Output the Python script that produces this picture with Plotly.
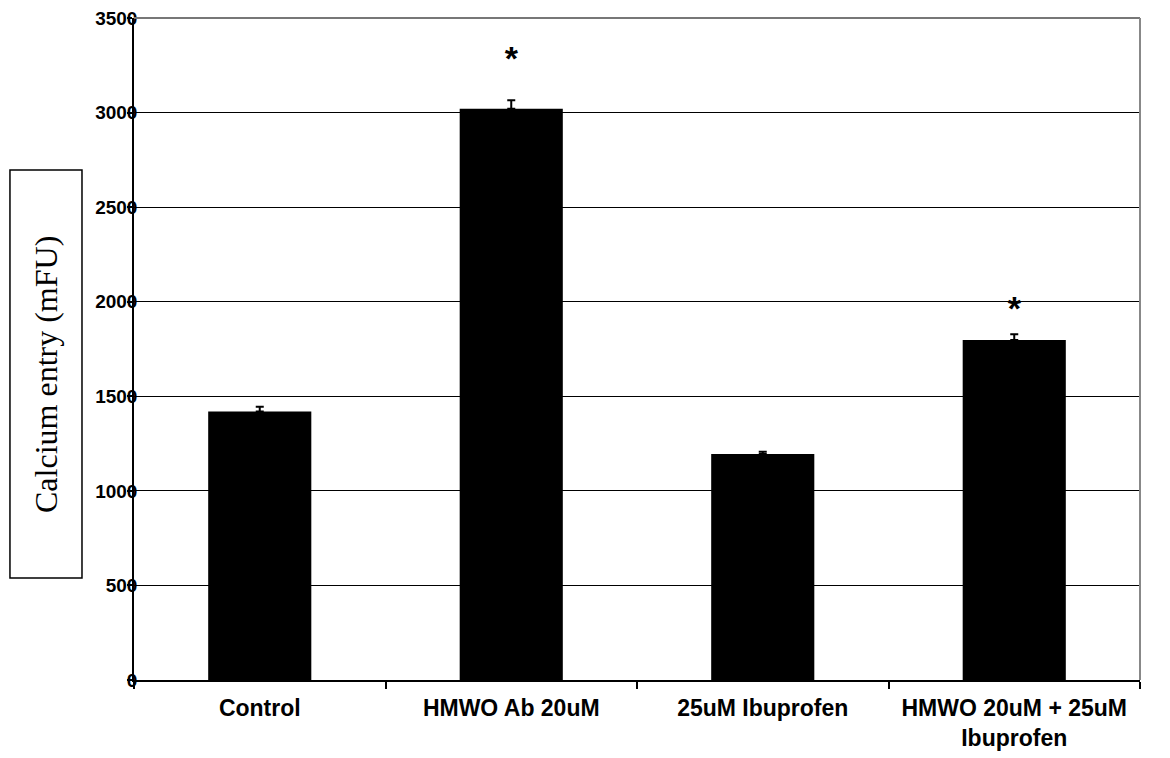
import plotly.graph_objects as go

categories = ["Control", "HMWO Ab 20uM", "25uM Ibuprofen", "HMWO 20uM + 25uM<br>Ibuprofen"]
values = [1420, 3020, 1195, 1798]
errors = [25, 45, 12, 30]
significant = [False, True, False, True]
star_values = [None, 3272, None, 1946]
y_ticks = [0, 500, 1000, 1500, 2000, 2500, 3000, 3500]

fig = go.Figure()
fig.add_trace(go.Bar(
    x=categories, y=values,
    marker=dict(color="black", line=dict(width=0)),
    error_y=dict(type="data", symmetric=False, array=errors,
                 arrayminus=[0] * len(errors), color="black",
                 thickness=2, width=4),
    width=0.41,
))

star_x = [c for c, s in zip(categories, significant) if s]
star_y = [v for v, s in zip(star_values, significant) if s]
fig.add_trace(go.Scatter(
    x=star_x, y=star_y, mode="text", text=["*"] * len(star_x),
    textfont=dict(family="Liberation Sans", size=34, color="black", weight="bold"),
    textposition="middle center", showlegend=False, hoverinfo="skip",
))

fig.update_layout(
    width=1170, height=758,
    margin=dict(l=134, r=30, t=18, b=78, autoexpand=False),
    paper_bgcolor="white", plot_bgcolor="white",
    showlegend=False,
    font=dict(family="Liberation Sans", color="black"),
)

fig.update_xaxes(
    type="category", tickson="boundaries", automargin=False,
    showline=True, linecolor="black", linewidth=1.5,
    ticks="outside", ticklen=7, tickcolor="black", tickwidth=1.5,
    showgrid=False,
    tickfont=dict(family="Liberation Sans", size=23, color="black", weight="bold"),
    ticklabelstandoff=7,
)
fig.update_yaxes(
    range=[0, 3500], tickvals=y_ticks, automargin=False,
    showline=True, linecolor="black", linewidth=1.5,
    ticks="outside", ticklen=5, tickcolor="black", tickwidth=1.5,
    showgrid=True, gridcolor="black", gridwidth=1.2,
    zeroline=False,
    tickfont=dict(family="Liberation Sans", size=19, color="black", weight="bold"),
    ticklabelstandoff=-14,
)

# gray frame on top and right edges
fig.add_shape(type="line", xref="paper", yref="paper", x0=0, x1=1, y0=1, y1=1,
              line=dict(color="#777777", width=2), layer="above")
fig.add_shape(type="line", xref="paper", yref="paper", x0=1, x1=1, y0=0, y1=1,
              line=dict(color="#888888", width=2), layer="above")

# boxed y-axis title
fig.add_shape(type="rect", xref="paper", yref="paper",
              x0=-0.1233, x1=-0.0517, y0=0.1541, y1=0.7704,
              line=dict(color="black", width=1.5), fillcolor="white")
fig.add_annotation(
    xref="paper", yref="paper", x=-0.0875, y=0.4622,
    text="Calcium entry (mFU)", textangle=-90, showarrow=False,
    font=dict(family="Liberation Serif", size=32, color="black"),
    xanchor="center", yanchor="middle",
)

fig.write_html("out.html")
